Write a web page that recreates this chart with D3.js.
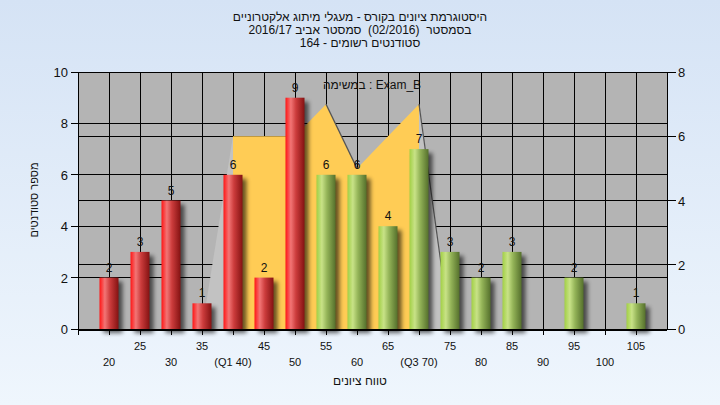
<!DOCTYPE html>
<html><head><meta charset="utf-8">
<script src="https://cdn.jsdelivr.net/npm/d3@7"></script>
<style>html,body{margin:0;padding:0;}svg{display:block;} text{white-space:pre;}</style>
</head><body>
<svg id="c" width="720" height="405"></svg>
<script>
const categories = ["20","25","30","35","40","45","50","55","60","65","70","75","80","85","90","95","100","105"];
const tickLabels = ["20","25","30","35","(Q1 40)","45","50","55","60","65","(Q3 70)","75","80","85","90","95","100","105"];
const counts = [2,3,5,1,6,2,9,6,6,4,7,3,2,3,0,2,0,1];
const passFrom = "55";
const areaCats = ["35","40","45","50","55","60","65","70","75"];
const areaVals = [0,6,6,6,7,5,6,7,0];
const q1 = "40", q3 = "70";
const leftTicks = [0,2,4,6,8,10];
const rightTicks = [0,2,4,6,8];
const titleLines = ["היסטוגרמת ציונים בקורס - מעגלי מיתוג אלקטרוניים","בסמסטר  (02/2016)  סמסטר אביב 2016/17","סטודנטים רשומים - 164"];
const note = "במשימה : Exam_B";
const xTitle = "טווח ציונים";
const yTitle = "מספר סטודנטים";

const svg = d3.select("#c");
const font = "'Liberation Sans', Arial, sans-serif";
const L=78,R=667,T=72,B=329;
const defs = svg.append("defs");
const bg = defs.append("linearGradient").attr("id","bg").attr("x1",0).attr("y1",0).attr("x2",0).attr("y2",1);
bg.append("stop").attr("offset","0%").attr("stop-color","#d5e3f5");
bg.append("stop").attr("offset","100%").attr("stop-color","#eff6fd");
function grad(id, stops){
  const g = defs.append("linearGradient").attr("id",id).attr("x1",0).attr("y1",0).attr("x2",1).attr("y2",0);
  stops.forEach(s=>g.append("stop").attr("offset",s[0]).attr("stop-color",s[1]));
}
grad("red",[["0%","#ff1515"],["28%","#f27575"],["55%","#cc3c3c"],["100%","#841212"]]);
grad("green",[["0%","#a2d045"],["28%","#c8e287"],["55%","#94b458"],["100%","#55702c"]]);
const f = defs.append("filter").attr("id","sh").attr("x","-50%").attr("y","-20%").attr("width","200%").attr("height","140%");
f.append("feGaussianBlur").attr("stdDeviation",2);

svg.append("rect").attr("width",720).attr("height",405).attr("fill","url(#bg)");

const x = d3.scalePoint().domain(categories).range([L,R]).padding(1);
const yL = d3.scaleLinear().domain([0,10]).range([B,T]);
const yR = d3.scaleLinear().domain([0,8]).range([B,T]);

svg.append("rect").attr("x",L).attr("y",T).attr("width",R-L).attr("height",B-T).attr("fill","#b4b4b4");

const grid = svg.append("g").attr("stroke","#000").attr("stroke-width",1).attr("shape-rendering","crispEdges");
categories.forEach(c=>grid.append("line").attr("x1",x(c)).attr("x2",x(c)).attr("y1",T).attr("y2",B));
leftTicks.forEach(v=>grid.append("line").attr("x1",L).attr("x2",R).attr("y1",yL(v)).attr("y2",yL(v)));
rightTicks.forEach(v=>grid.append("line").attr("x1",L).attr("x2",R).attr("y1",yR(v)).attr("y2",yR(v)));

// area series
const ad = areaCats.map((c,i)=>({c, v:areaVals[i]}));
const i1 = areaCats.indexOf(q1), i3 = areaCats.indexOf(q3);
const area = d3.area().x(d=>x(d.c)).y0(yR(0)).y1(d=>yR(d.v));
svg.append("path").attr("d",area(ad.slice(0,i1+1))).attr("fill","#c2c2c2");
svg.append("path").attr("d",area(ad.slice(i3))).attr("fill","#c2c2c2");
svg.append("path").attr("d",area(ad.slice(i1,i3+1))).attr("fill","#ffcc55");
for(let i=0;i<ad.length-1;i++){
  if(ad[i+1].v < ad[i].v){
    svg.append("line").attr("x1",x(ad[i].c)).attr("y1",yR(ad[i].v)).attr("x2",x(ad[i+1].c)).attr("y2",yR(ad[i+1].v))
      .attr("stroke","#555").attr("stroke-width",1.2);
  }
}

// bars
const bw = 19;
const passIdx = categories.indexOf(passFrom);
const bd = categories.map((c,i)=>({c,v:counts[i],pass:i>=passIdx})).filter(d=>d.v>0);
svg.append("g").selectAll("rect").data(bd).join("rect")
  .attr("x",d=>x(d.c)-bw/2+4).attr("y",d=>yL(d.v)+4).attr("width",bw).attr("height",d=>B-yL(d.v))
  .attr("fill","#000").attr("opacity",0.6).attr("filter","url(#sh)");
svg.append("g").selectAll("rect").data(bd).join("rect")
  .attr("x",d=>x(d.c)-bw/2).attr("y",d=>yL(d.v)).attr("width",bw).attr("height",d=>B-yL(d.v))
  .attr("fill",d=>d.pass?"url(#green)":"url(#red)");
svg.append("g").selectAll("text").data(bd).join("text")
  .attr("x",d=>x(d.c)).attr("y",d=>yL(d.v)-6).attr("text-anchor","middle")
  .attr("font-family",font).attr("font-size",12).attr("fill","#111").text(d=>d.v);

// axes
const ax = svg.append("g").attr("stroke","#000").attr("stroke-width",1).attr("shape-rendering","crispEdges");
ax.append("line").attr("x1",L).attr("x2",R).attr("y1",B+1).attr("y2",B+1);
ax.append("line").attr("x1",L).attr("x2",L).attr("y1",T).attr("y2",B+1);
ax.append("line").attr("x1",R).attr("x2",R).attr("y1",T).attr("y2",B+1);
ax.append("line").attr("x1",L).attr("x2",L).attr("y1",B).attr("y2",B+6);
categories.forEach(c=>ax.append("line").attr("x1",x(c)).attr("x2",x(c)).attr("y1",B).attr("y2",B+6));
leftTicks.forEach(v=>ax.append("line").attr("x1",L-7).attr("x2",L).attr("y1",yL(v)).attr("y2",yL(v)));
rightTicks.forEach(v=>ax.append("line").attr("x1",R).attr("x2",R+9).attr("y1",yR(v)).attr("y2",yR(v)));

svg.append("g").selectAll("text").data(leftTicks).join("text")
  .attr("x",L-10).attr("y",d=>yL(d)+5).attr("text-anchor","end")
  .attr("font-family",font).attr("font-size",13).attr("fill","#111").text(d=>d);
svg.append("g").selectAll("text").data(rightTicks).join("text")
  .attr("x",R+11).attr("y",d=>yR(d)+5).attr("text-anchor","start")
  .attr("font-family",font).attr("font-size",13).attr("fill","#111").text(d=>d);
svg.append("g").selectAll("text").data(categories).join("text")
  .attr("x",d=>x(d)).attr("y",(d,i)=>i%2?350:366).attr("text-anchor","middle")
  .attr("font-family",font).attr("font-size",11).attr("fill","#111").text((d,i)=>tickLabels[i]);

// titles
svg.append("g").selectAll("text").data(titleLines).join("text")
  .attr("x",360).attr("y",(d,i)=>21+i*13).attr("text-anchor","middle").attr("direction","rtl")
  .attr("font-family",font).attr("font-size",12).attr("fill","#111").text(d=>d);
svg.append("text").attr("x",372).attr("y",89).attr("text-anchor","middle").attr("direction","ltr")
  .attr("font-family",font).attr("font-size",12).attr("fill","#111").text(note);
svg.append("text").attr("x",360).attr("y",385).attr("text-anchor","middle").attr("direction","rtl")
  .attr("font-family",font).attr("font-size",12).attr("fill","#111").text(xTitle);
svg.append("text").attr("transform","translate(38,200) rotate(-90)").attr("text-anchor","middle").attr("direction","rtl")
  .attr("font-family",font).attr("font-size",11).attr("fill","#111").text(yTitle);
</script>
</body></html>
